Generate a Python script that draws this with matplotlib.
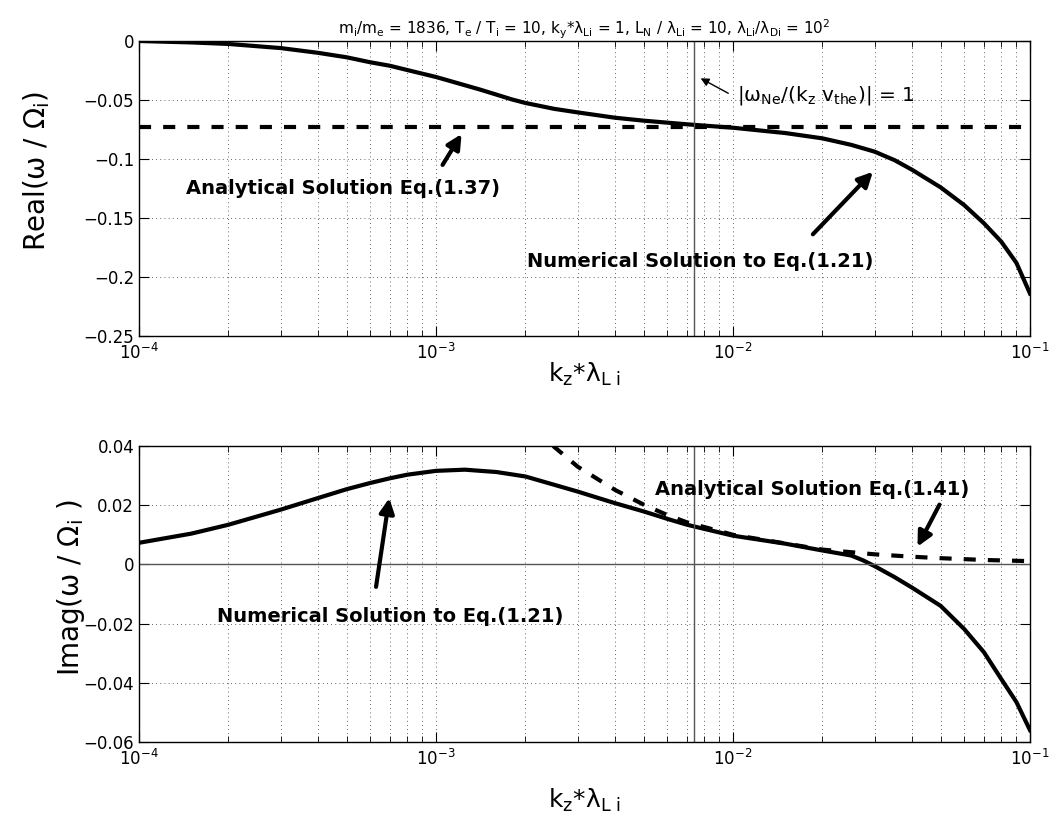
import matplotlib
matplotlib.use('Agg')
import matplotlib.pyplot as plt
from matplotlib.ticker import FuncFormatter, LogLocator, FixedLocator

plt.rcParams['font.family'] = ['DejaVu Sans']
plt.rcParams['mathtext.fontset'] = 'dejavusans'

# real part, numerical solution
kz_re = [1e-4, 1.5e-4, 2e-4, 3e-4, 4e-4, 5e-4, 6e-4, 7e-4, 8e-4, 1e-3, 1.4e-3,
         1.6e-3, 1.8e-3, 2e-3, 2.5e-3, 3e-3, 4e-3, 5e-3, 7e-3, 1e-2, 1.5e-2,
         2e-2, 2.5e-2, 3e-2, 3.5e-2, 4e-2, 5e-2, 6e-2, 7e-2, 8e-2, 9e-2, 1e-1]
re_num = [0.0, -0.0012, -0.0025, -0.006, -0.010, -0.0138, -0.018, -0.021, -0.0246,
          -0.0305, -0.041, -0.0455, -0.0495, -0.0525, -0.0575, -0.0605, -0.065,
          -0.0675, -0.0706, -0.0735, -0.078, -0.0825, -0.088, -0.0938, -0.101,
          -0.109, -0.124, -0.139, -0.1545, -0.170, -0.188, -0.214]
# real part, analytical (constant)
kz_re_an = [1e-4, 1e-1]
re_an = [-0.073, -0.073]

# imaginary part, numerical solution
kz_im = [1e-4, 1.5e-4, 2e-4, 3e-4, 4e-4, 5e-4, 6e-4, 7e-4, 8e-4, 1e-3, 1.25e-3,
         1.6e-3, 2e-3, 3e-3, 4e-3, 5e-3, 6e-3, 7e-3, 8e-3, 1e-2, 1.5e-2, 2e-2,
         2.5e-2, 2.75e-2, 3e-2, 3.5e-2, 4e-2, 5e-2, 6e-2, 7e-2, 8e-2, 9e-2, 1e-1]
im_num = [0.0073, 0.0104, 0.0134, 0.0185, 0.0224, 0.0254, 0.0275, 0.0291, 0.0303,
          0.0316, 0.0320, 0.0312, 0.0297, 0.0246, 0.0207, 0.0179, 0.0154, 0.0134,
          0.0120, 0.0097, 0.0070, 0.0047, 0.0030, 0.0013, -0.0006, -0.0043,
          -0.0078, -0.014, -0.0218, -0.0297, -0.0387, -0.0465, -0.056]
# imaginary part, analytical
kz_im_an = [2.48e-3, 3e-3, 4e-3, 5e-3, 6e-3, 7e-3, 1e-2, 2e-2, 3e-2, 4e-2, 5e-2, 7e-2, 1e-1]
im_an = [0.040, 0.033, 0.0252, 0.0202, 0.0167, 0.0142, 0.0100, 0.005, 0.0034,
         0.0026, 0.0021, 0.0015, 0.0011]

kz_res = 7.4e-3  # |w_Ne/(kz vthe)| = 1

re_yticks = [0, -0.05, -0.1, -0.15, -0.2, -0.25]
im_yticks = [0.04, 0.02, 0, -0.02, -0.04, -0.06]

title = (r'm$_\mathrm{i}$/m$_\mathrm{e}$ = 1836, T$_\mathrm{e}$ / T$_\mathrm{i}$ = 10, '
         r'k$_\mathrm{y}$*λ$_{\mathrm{Li}}$ = 1, L$_\mathrm{N}$ / λ$_{\mathrm{Li}}$ = 10, '
         r'λ$_{\mathrm{Li}}$/λ$_{\mathrm{Di}}$ = 10$^\mathrm{2}$')
xlab = r'k$_\mathrm{z}$*λ$_{\mathrm{L\ i}}$'


def fmt(v, pos):
    s = '%g' % v
    return s.replace('-', '\u2212')


def style(ax, yticks):
    ax.set_xscale('log')
    ax.set_xlim(1e-4, 1e-1)
    ax.set_ylim(yticks[-1], yticks[0])
    ax.yaxis.set_major_locator(FixedLocator(yticks))
    ax.yaxis.set_major_formatter(FuncFormatter(fmt))
    ax.xaxis.set_major_locator(LogLocator(base=10))
    ax.xaxis.set_minor_locator(LogLocator(base=10, subs=range(2, 10)))
    ax.tick_params(which='both', direction='in', top=True, right=True, labelsize=12)
    ax.tick_params(which='major', length=7, width=0.8)
    ax.tick_params(which='minor', length=4, width=0.6)
    ax.tick_params(axis='x', pad=5)
    ax.grid(True, which='major', linestyle=(0, (1, 4)), color='#333333', linewidth=0.6)
    ax.grid(True, which='minor', axis='x', linestyle=(0, (1, 4)), color='#333333', linewidth=0.6)
    for sp in ax.spines.values():
        sp.set_linewidth(1.0)
    ax.set_xlabel(xlab, fontsize=18)


arrow = dict(arrowstyle='-|>', color='k', lw=3, mutation_scale=22, shrinkA=0, shrinkB=0)
bold = dict(fontsize=14, fontweight='bold')
dash = (0, (2.9, 2.9))

fig = plt.figure(figsize=(10.55, 8.25), dpi=100)
ax1 = fig.add_axes([0.1318, 0.5927, 0.8445, 0.3576])
ax2 = fig.add_axes([0.1318, 0.1006, 0.8445, 0.3588])

# top: real part
ax1.plot(kz_re, re_num, color='k', lw=3)
ax1.plot(kz_re_an, re_an, color='k', lw=3, linestyle=dash)
ax1.axvline(kz_res, color='#555555', lw=1)
style(ax1, re_yticks)
ax1.set_ylabel(r'Real(ω / Ω$_\mathrm{i}$)', fontsize=20)
ax1.yaxis.set_label_coords(-0.098, 0.56)
ax1.xaxis.set_label_coords(0.5, -0.085)
ax1.set_title(title, fontsize=11, pad=4)
ax1.annotate('', xy=(1.219e-3, -0.0788), xytext=(1.052e-3, -0.105), arrowprops=arrow)
ax1.text(1.44e-4, -0.1254, 'Analytical Solution Eq.(1.37)', ha='left', va='center', **bold)
ax1.annotate('', xy=(0.02958, -0.1108), xytext=(0.01857, -0.1638), arrowprops=arrow)
ax1.text(7.74e-3, -0.187, 'Numerical Solution to Eq.(1.21)', ha='center', va='center', **bold)
ax1.annotate('', xy=(7.78e-3, -0.0316), xytext=(9.64e-3, -0.0443),
             arrowprops=dict(arrowstyle='-|>', color='k', lw=1, mutation_scale=12,
                             shrinkA=0, shrinkB=0))
ax1.text(1.034e-2, -0.046, r'|ω$_{\mathrm{Ne}}$/(k$_\mathrm{z}$ v$_{\mathrm{the}}$)| = 1',
         ha='left', va='center', fontsize=14.5)

# bottom: imaginary part
ax2.plot(kz_im, im_num, color='k', lw=3)
ax2.plot(kz_im_an, im_an, color='k', lw=3, linestyle=dash)
ax2.axvline(kz_res, color='#555555', lw=1)
ax2.axhline(0, color='#555555', lw=1)
style(ax2, im_yticks)
ax2.set_ylabel(r'Imag(ω / Ω$_\mathrm{i}$ )', fontsize=20)
ax2.yaxis.set_label_coords(-0.058, 0.52)
ax2.xaxis.set_label_coords(0.5, -0.15)
ax2.annotate('', xy=(6.96e-4, 0.0224), xytext=(6.28e-4, -0.0076), arrowprops=arrow)
ax2.text(1.83e-4, -0.0175, 'Numerical Solution to Eq.(1.21)', ha='left', va='center', **bold)
ax2.annotate('', xy=(0.0418, 0.006), xytext=(0.04958, 0.0202), arrowprops=arrow)
ax2.text(5.47e-3, 0.0252, 'Analytical Solution Eq.(1.41)', ha='left', va='center', **bold)

fig.savefig('out.png', dpi=100)
